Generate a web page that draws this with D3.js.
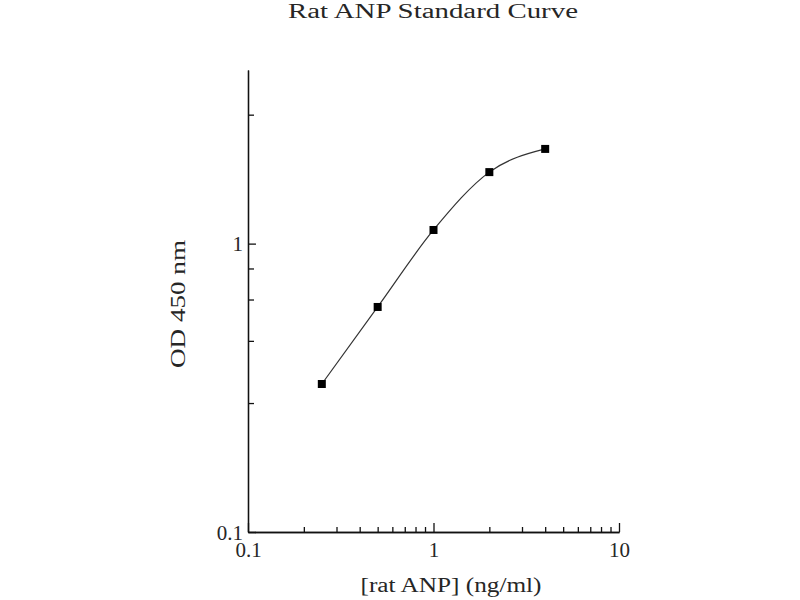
<!DOCTYPE html>
<html>
<head>
<meta charset="utf-8">
<script src="https://cdn.jsdelivr.net/npm/d3@7"></script>
<style>
  body { margin: 0; background: #fff; }
  text { font-family: "Liberation Serif", "Times New Roman", serif; fill: #262626; }
</style>
</head>
<body>
<svg id="chart" width="800" height="600"></svg>
<script>
// standard curve points
var concentrations = [0.25, 0.5, 1, 2, 4]
var odValues = [0.326, 0.603, 1.115, 1.77, 2.13]

var xMajorTicks = [0.1, 1, 10]
var xMinorTicks = [0.2, 0.3, 0.4, 0.5, 0.6, 0.7, 0.8, 0.9, 2, 3, 4, 5, 6, 7, 8, 9]
var yMajorTicks = [0.1, 1]
var yMinorTicks = [0.28, 0.46, 0.64, 0.82, 2.8]

var dimensions = {
    width: 800,
    height: 600,
    margin: { top: 70, bottom: 68, left: 248, right: 181 }
}

var svg = d3.select("#chart")

var xScale = d3.scaleLog()
               .domain([0.1, 10])
               .range([dimensions.margin.left, dimensions.width - dimensions.margin.right])

var yScale = d3.scaleLog()
               .domain([0.1, 4])
               .range([dimensions.height - dimensions.margin.bottom, dimensions.margin.top])

// x axis - ticks point inwards (up)
var xAxisMinor = svg.append("g")
    .attr("transform", `translate(0,${yScale(0.1)})`)
    .call(d3.axisBottom(xScale).tickValues(xMinorTicks).tickSize(-5).tickSizeOuter(0).tickFormat(""))
var xAxis = svg.append("g")
    .attr("transform", `translate(0,${yScale(0.1)})`)
    .call(d3.axisBottom(xScale).tickValues(xMajorTicks).tickSize(-9).tickSizeOuter(0)
          .tickFormat(d3.format("")))

// y axis - ticks point inwards (right)
var yAxisMinor = svg.append("g")
    .attr("transform", `translate(${xScale(0.1)},0)`)
    .call(d3.axisLeft(yScale).tickValues(yMinorTicks).tickSize(-6).tickSizeOuter(0).tickFormat(""))
var yAxis = svg.append("g")
    .attr("transform", `translate(${xScale(0.1)},0)`)
    .call(d3.axisLeft(yScale).tickValues(yMajorTicks).tickSize(-8).tickSizeOuter(0)
          .tickFormat(d3.format("")))

svg.selectAll(".domain").attr("stroke", "#111").attr("stroke-width", 1.3)
svg.selectAll(".tick line").attr("stroke", "#111").attr("stroke-width", 1.3)
svg.selectAll(".tick text")
   .style("font-family", "'Liberation Serif', serif")
   .style("font-size", "21px")
   .attr("fill", "#262626")
xAxis.selectAll(".tick text").attr("y", 10).attr("dy", "0.71em")
yAxis.selectAll(".tick text").attr("x", -5).attr("dy", "0.34em")

// curve through the standards
var points = concentrations.map((c, i) => [c, odValues[i]])
var line = d3.line()
             .x(d => xScale(d[0]))
             .y(d => yScale(d[1]))
             .curve(d3.curveMonotoneX)

svg.append("path")
   .datum(points)
   .attr("d", line)
   .attr("fill", "none")
   .attr("stroke", "#333")
   .attr("stroke-width", 1.2)

svg.append("g")
   .selectAll("rect")
   .data(points)
   .enter()
   .append("rect")
   .attr("x", d => xScale(d[0]) - 4)
   .attr("y", d => yScale(d[1]) - 4)
   .attr("width", 8)
   .attr("height", 8)
   .attr("fill", "#000")

// titles
svg.append("text")
   .attr("x", 433)
   .attr("y", 18)
   .attr("text-anchor", "middle")
   .attr("textLength", 290)
   .attr("lengthAdjust", "spacingAndGlyphs")
   .style("font-size", "20px")
   .text("Rat ANP Standard Curve")

svg.append("text")
   .attr("x", 451)
   .attr("y", 592)
   .attr("text-anchor", "middle")
   .attr("textLength", 181)
   .attr("lengthAdjust", "spacingAndGlyphs")
   .style("font-size", "20px")
   .text("[rat ANP] (ng/ml)")

svg.append("text")
   .attr("transform", "translate(185,304) rotate(-90)")
   .attr("text-anchor", "middle")
   .attr("textLength", 128)
   .attr("lengthAdjust", "spacingAndGlyphs")
   .style("font-size", "20px")
   .attr("fill", "#3a3a3a")
   .text("OD 450 nm")
</script>
</body>
</html>
